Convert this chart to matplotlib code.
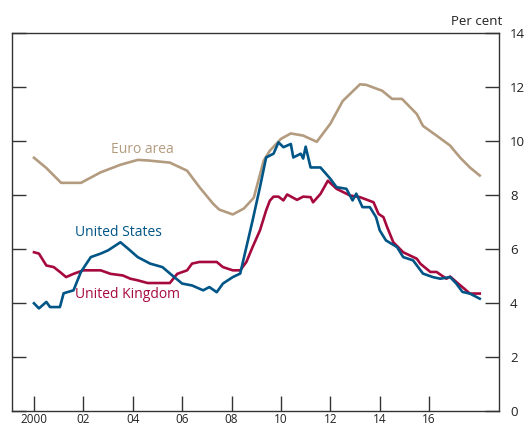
import matplotlib.pyplot as plt
import numpy as np

plt.rcParams['figure.autolayout'] = False
plt.rcParams['figure.constrained_layout.use'] = False
plt.rcParams['savefig.bbox'] = None
plt.rcParams['font.family'] = ['Open Sans', 'DejaVu Sans']

# Values (decimal year, per cent)
euro_t = [2000.0, 2000.5, 2001.1, 2001.9, 2002.7, 2003.5, 2004.2, 2004.6, 2005.5,
          2006.2, 2006.7, 2007.25, 2007.5, 2008.05, 2008.5, 2008.9, 2009.3, 2009.55,
          2010.0, 2010.4, 2010.9, 2011.45, 2012.0, 2012.5, 2013.2, 2013.45, 2014.1,
          2014.5, 2014.9, 2015.5, 2015.75, 2016.3, 2016.85, 2017.25, 2017.65, 2018.05]
euro_v = [9.38, 9.0, 8.45, 8.45, 8.84, 9.12, 9.3, 9.28, 9.2,
          8.9, 8.29, 7.68, 7.46, 7.28, 7.5, 7.9, 9.27, 9.64,
          10.08, 10.28, 10.2, 9.97, 10.64, 11.48, 12.1, 12.08, 11.86,
          11.56, 11.56, 11.0, 10.56, 10.2, 9.83, 9.39, 9.02, 8.72]

us_t = [2000.0, 2000.2, 2000.5, 2000.65, 2001.05, 2001.2, 2001.6, 2001.9, 2002.3,
        2002.7, 2003.0, 2003.2, 2003.5, 2003.8, 2004.2, 2004.7, 2005.2, 2005.6,
        2006.0, 2006.4, 2006.85, 2007.1, 2007.4, 2007.65, 2008.05, 2008.35, 2008.6,
        2008.85, 2009.15, 2009.4, 2009.7, 2009.9, 2010.1, 2010.4, 2010.5, 2010.8,
        2010.9, 2011.0, 2011.2, 2011.6, 2012.0, 2012.25, 2012.65, 2012.9, 2013.05,
        2013.3, 2013.6, 2013.85, 2014.0, 2014.25, 2014.7, 2014.95, 2015.35, 2015.75,
        2016.15, 2016.45, 2016.85, 2017.1, 2017.35, 2017.65, 2018.05]
us_v = [3.99, 3.8, 4.04, 3.85, 3.85, 4.36, 4.47, 5.15, 5.7,
        5.83, 5.95, 6.07, 6.25, 6.02, 5.7, 5.46, 5.33, 5.02,
        4.72, 4.65, 4.47, 4.59, 4.4, 4.72, 4.96, 5.09, 6.07,
        7.05, 8.29, 9.39, 9.53, 9.95, 9.77, 9.89, 9.39, 9.53,
        9.35, 9.79, 9.02, 9.02, 8.6, 8.29, 8.23, 7.8, 8.05,
        7.55, 7.55, 7.18, 6.69, 6.32, 6.07, 5.7, 5.58, 5.09,
        4.96, 4.9, 4.96, 4.72, 4.41, 4.35, 4.16]

uk_t = [2000.0, 2000.2, 2000.5, 2000.8, 2001.05, 2001.3, 2001.6, 2002.0, 2002.7,
        2003.1, 2003.6, 2003.9, 2004.2, 2004.6, 2005.2, 2005.5, 2005.8, 2006.2,
        2006.4, 2006.7, 2007.4, 2007.65, 2008.05, 2008.35, 2008.6, 2008.85, 2009.15,
        2009.4, 2009.55, 2009.7, 2009.9, 2010.1, 2010.25, 2010.65, 2010.9, 2011.2,
        2011.3, 2011.6, 2011.9, 2012.25, 2012.8, 2013.2, 2013.75, 2013.95, 2014.15,
        2014.3, 2014.55, 2014.95, 2015.5, 2015.65, 2016.05, 2016.3, 2016.7, 2016.85,
        2017.1, 2017.5, 2017.65, 2018.05]
uk_v = [5.88, 5.83, 5.39, 5.33, 5.15, 4.96, 5.08, 5.21, 5.21,
        5.08, 5.02, 4.9, 4.84, 4.74, 4.74, 4.74, 5.08, 5.21,
        5.46, 5.52, 5.52, 5.33, 5.21, 5.21, 5.52, 6.07, 6.69,
        7.43, 7.79, 7.94, 7.94, 7.8, 8.02, 7.82, 7.94, 7.92,
        7.73, 8.04, 8.53, 8.23, 7.98, 7.92, 7.73, 7.3, 7.18,
        6.81, 6.25, 5.88, 5.64, 5.45, 5.15, 5.15, 4.9, 4.98,
        4.78, 4.47, 4.35, 4.35]

year_ticks = [2000, 2002, 2004, 2006, 2008, 2010, 2012, 2014, 2016]
year_labels = ['2000', '02', '04', '06', '08', '10', '12', '14', '16']
y_ticks = [0, 2, 4, 6, 8, 10, 12, 14]

euro_col = '#b39b7f'
us_col = '#005587'
uk_col = '#a6093d'

fig = plt.figure(figsize=(5.27, 4.28), dpi=100)
fig.set_layout_engine('none')
ax = fig.add_axes([0.0228, 0.0397, 0.9241, 0.8832])

ax.plot(euro_t, euro_v, color=euro_col, lw=1.9)
ax.plot(uk_t, uk_v, color=uk_col, lw=1.9)
ax.plot(us_t, us_v, color=us_col, lw=1.9)

ax.set_xlim(1999.11, 2018.83)
ax.set_ylim(0, 14)
ax.set_xticks(year_ticks)
ax.set_xticklabels(year_labels)
ax.set_yticks(y_ticks)

ax.tick_params(axis='x', direction='in', length=11, width=1, pad=1.5,
               labelsize=8.5, colors='#333333', labelcolor='#222222')
ax.tick_params(axis='y', direction='in', length=10, width=1, pad=8,
               left=True, right=True, labelleft=False, labelright=True,
               labelsize=9.5, colors='#333333', labelcolor='#222222')
for s in ax.spines.values():
    s.set_color('#333333')
    s.set_linewidth(1)

ax.text(2004.37, 9.7, 'Euro area', color=euro_col, fontsize=10,
        ha='center', va='center')
ax.text(2001.65, 6.6, 'United States', color=us_col, fontsize=10,
        ha='left', va='center')
ax.text(2001.65, 4.3, 'United Kingdom', color=uk_col, fontsize=10,
        ha='left', va='center')

fig.text(0.9526, 0.949, 'Per cent', ha='right', va='center',
         fontsize=9.5, color='#222222')

fig.savefig('out.png', dpi=100)
